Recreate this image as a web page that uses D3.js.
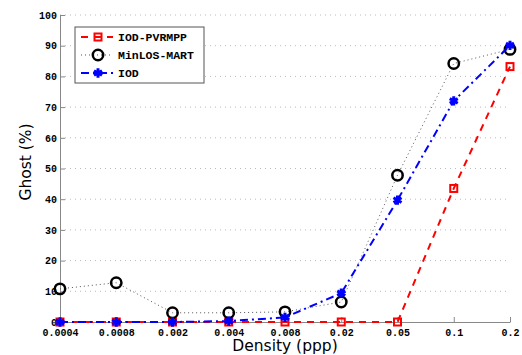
<!DOCTYPE html>
<html>
<head>
<meta charset="utf-8">
<script src="https://cdn.jsdelivr.net/npm/d3@7"></script>
<style>
  body { margin: 0; background: #fff; }
  .tick text { font-family: "Liberation Mono", monospace; font-weight: bold; font-size: 10px; }
</style>
</head>
<body>
<svg width="522" height="355"></svg>
<script>
var densities = ["0.0004", "0.0008", "0.002", "0.004", "0.008", "0.02", "0.05", "0.1", "0.2"];
var yTicks = [0, 10, 20, 30, 40, 50, 60, 70, 80, 90, 100];
var pvrmpp = [0, 0, 0, 0, 0, 0, 0, 43.5, 83.2];
var minlos = [10.8, 12.8, 3, 3, 3.3, 6.5, 47.8, 84.2, 88.8];
var iod = [0, 0, 0, 0.3, 1.5, 9.4, 39.7, 72, 90.1];

var series = [
  { name: "IOD-PVRMPP", values: pvrmpp, color: "#ff0000", dash: "7,6", width: 2, marker: "square" },
  { name: "MinLOS-MART", values: minlos, color: "#000000", dash: "1,3", width: 1, lineColor: "#555", marker: "circle" },
  { name: "IOD", values: iod, color: "#0000ff", dash: "8,4,2,4", width: 2, marker: "star" }
];

var svg = d3.select("svg"),
    plotL = 60, plotR = 510, plotT = 15, plotB = 322;

var x = d3.scalePoint().domain(densities).range([plotL, plotR]);
var y = d3.scaleLinear().domain([0, 100]).range([plotB, plotT]);

// grid
svg.append("g").selectAll("line")
  .data(yTicks.slice(1))
  .enter().append("line")
    .attr("x1", plotL).attr("x2", plotR)
    .attr("y1", y).attr("y2", y)
    .attr("stroke", "#bbb")
    .attr("stroke-dasharray", "1,4");

var xAxis = svg.append("g")
  .attr("transform", "translate(0," + plotB + ")")
  .call(d3.axisBottom(x).tickSizeInner(-5).tickSizeOuter(0).tickPadding(5));
var yAxis = svg.append("g")
  .attr("transform", "translate(" + plotL + ",0)")
  .call(d3.axisLeft(y).tickValues(yTicks).tickSizeInner(-5).tickSizeOuter(0).tickPadding(3));
svg.selectAll(".domain, .tick line").attr("stroke", "#888");
xAxis.selectAll(".tick text").attr("dy", "0.85em");

svg.append("text")
  .attr("x", (plotL + plotR) / 2).attr("y", 351)
  .attr("text-anchor", "middle")
  .attr("font-family", "DejaVu Sans").attr("font-size", 15.5)
  .text("Density (ppp)");
svg.append("text")
  .attr("transform", "translate(31,162)rotate(-90)")
  .attr("text-anchor", "middle")
  .attr("font-family", "DejaVu Sans").attr("font-size", 15.5)
  .text("Ghost (%)");

var line = d3.line()
  .x(function(d, i) { return x(densities[i]); })
  .y(function(d) { return y(d); });

function drawMarker(g, s, cx, cy) {
  if (s.marker === "square") {
    g.append("rect").attr("x", cx - 3.5).attr("y", cy - 3.5)
      .attr("width", 7).attr("height", 7)
      .attr("fill", "none").attr("stroke", s.color).attr("stroke-width", 2);
  } else if (s.marker === "circle") {
    g.append("circle").attr("cx", cx).attr("cy", cy).attr("r", 5.2)
      .attr("fill", "none").attr("stroke", s.color).attr("stroke-width", 2.5);
  } else {
    g.append("path")
      .attr("transform", "translate(" + cx + "," + cy + ")")
      .attr("d", d3.symbol().type(d3.symbolAsterisk).size(60)())
      .attr("fill", "none").attr("stroke", s.color).attr("stroke-width", 3);
  }
}

series.forEach(function(s) {
  var g = svg.append("g");
  g.append("path")
    .datum(s.values)
    .attr("d", line)
    .attr("fill", "none")
    .attr("stroke", s.lineColor || s.color)
    .attr("stroke-width", s.width)
    .attr("stroke-dasharray", s.dash);
  s.values.forEach(function(v, i) { drawMarker(g, s, x(densities[i]), y(v)); });
});

// legend
var lg = svg.append("g").attr("transform", "translate(75,27)");
lg.append("rect").attr("width", 129).attr("height", 56)
  .attr("fill", "#fff").attr("stroke", "#555").attr("stroke-width", 1);
series.forEach(function(s, i) {
  var ly = 10 + i * 18;
  lg.append("line").attr("x1", 6).attr("x2", 38).attr("y1", ly).attr("y2", ly)
    .attr("stroke", s.lineColor || s.color).attr("stroke-width", s.width)
    .attr("stroke-dasharray", s.dash);
  drawMarker(lg, s, 23, ly);
  lg.append("text").attr("x", 43).attr("y", ly).attr("dy", "0.35em")
    .attr("font-family", "Liberation Mono").attr("font-weight", "bold").attr("font-size", 11.5)
    .text(s.name);
});
</script>
</body>
</html>
